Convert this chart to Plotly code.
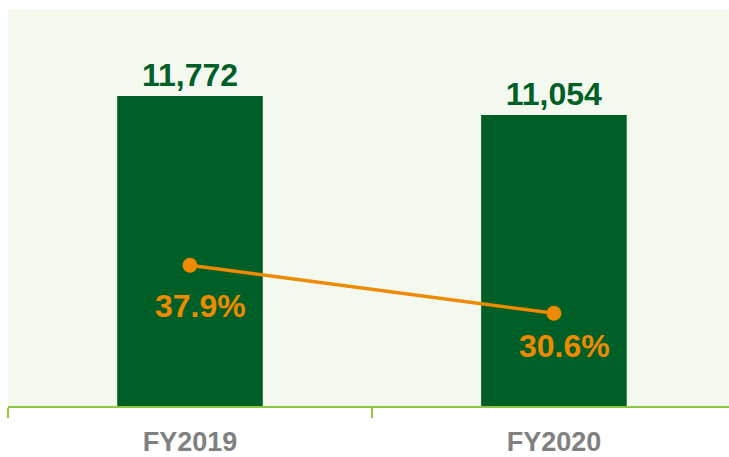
import plotly.graph_objects as go

# Fiscal years, revenue bars and margin line
years = ["FY2019", "FY2020"]
revenue = [11772, 11054]
margin_pct = [37.9, 30.6]

bar_green = "#005E27"
orange = "#EE8A00"
axis_green = "#8DC63F"
label_font = "Liberation Sans, Arial, sans-serif"

fig = go.Figure()

fig.add_trace(go.Bar(
    x=years,
    y=revenue,
    width=0.4,
    marker=dict(color=bar_green, line=dict(width=0)),
    text=[f"{v:,}" for v in revenue],
    texttemplate="<b>%{text}</b>",
    textposition="outside",
    textfont=dict(family=label_font, size=32, color=bar_green),
    cliponaxis=False,
    hoverinfo="skip",
))

fig.add_trace(go.Scatter(
    x=years,
    y=margin_pct,
    yaxis="y2",
    mode="lines+markers",
    line=dict(color=orange, width=3.5),
    marker=dict(color=orange, size=15),
    hoverinfo="skip",
))

# percentage labels sit below each marker
label_dy = [-41, -33]
for yr, p, dy in zip(years, margin_pct, label_dy):
    fig.add_annotation(
        x=yr, y=p, yref="y2",
        text=f"<b>{p:.1f}%</b>",
        showarrow=False,
        xshift=11, yshift=dy,
        font=dict(family=label_font, size=32, color=orange),
    )

fig.update_layout(
    width=729, height=457,
    margin=dict(l=8, r=0, t=10, b=51),
    paper_bgcolor="white",
    plot_bgcolor="#F3F9EE",
    showlegend=False,
    xaxis=dict(
        type="category",
        range=[-0.5, 1.481],
        showline=True, linecolor=axis_green, linewidth=2,
        ticks="outside", tickson="boundaries", ticklen=10, tickcolor=axis_green, tickwidth=2,
        showgrid=False,
        tickfont=dict(family=label_font, size=27, color="#808080", weight="bold"),
        ticklabelstandoff=11,
    ),
    yaxis=dict(range=[0, 15040], visible=False, showgrid=False, zeroline=False),
    yaxis2=dict(range=[16.5, 76.7], overlaying="y", visible=False, showgrid=False, zeroline=False),
)

fig.write_html("out.html")
